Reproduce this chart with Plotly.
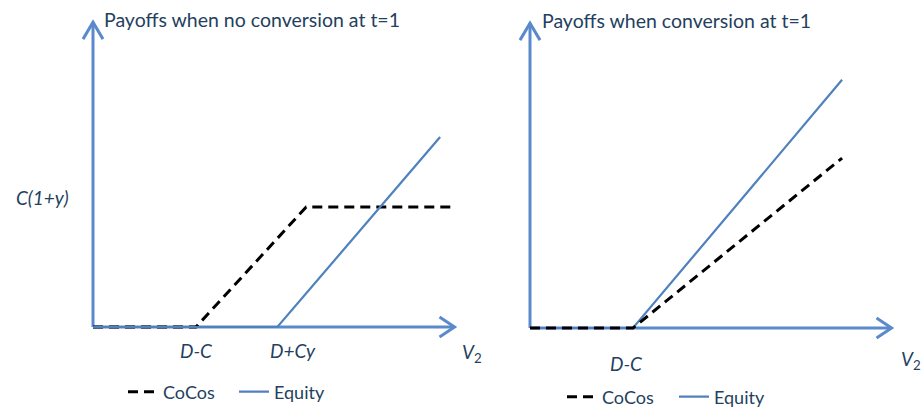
import plotly.graph_objects as go

# ---------------- data (conceptual units along V2 / payoff) ----------------
left_cocos_x = [0, 10.0, 20.7, 34.7]
left_cocos_y = [0, 0, 11.65, 11.65]
left_equity_x = [0, 17.9, 33.7]
left_equity_y = [0, 0, 18.45]

right_cocos_x = [0, 10.0, 30.3]
right_cocos_y = [0, 0, 16.5]
right_equity_x = [0, 10.0, 30.3]
right_equity_y = [0, 0, 24.1]

left_ticks = [("<i>D-C</i>", 10.0), ("<i>D+Cy</i>", 19.4)]
right_ticks = [("<i>D-C</i>", 9.4)]
y_label = "<i>C(1+y)</i>"
left_title = "Payoffs when no conversion at t=1"
right_title = "Payoffs when conversion at t=1"
x_label = "<i>V</i><sub>2</sub>"
axis_len_x = 35.1
axis_len_y = 29.6

# ---------------- styling ----------------
W, H = 924, 407
PX = 10.3  # pixels per unit
AXIS_C = "#5A8ACB"
EQ_C = "#4F81BD"
TXT_C = "#243F60"
FONT = "Lato"

L_ORIG = (93, 327)
R_ORIG = (530, 328)

fig = go.Figure()

fig.add_trace(go.Scatter(x=left_cocos_x, y=left_cocos_y, mode="lines", name="CoCos",
                         line=dict(color="black", width=3, dash="10px,6px"),
                         xaxis="x", yaxis="y", legend="legend", legendrank=1))
fig.add_trace(go.Scatter(x=left_equity_x, y=left_equity_y, mode="lines", name="Equity",
                         line=dict(color=EQ_C, width=2.2),
                         xaxis="x", yaxis="y", legend="legend", legendrank=2))
fig.add_trace(go.Scatter(x=right_equity_x, y=right_equity_y, mode="lines", name="Equity",
                         line=dict(color=EQ_C, width=2.2),
                         xaxis="x2", yaxis="y2", legend="legend2", legendrank=2))
fig.add_trace(go.Scatter(x=right_cocos_x, y=right_cocos_y, mode="lines", name="CoCos",
                         line=dict(color="black", width=3, dash="10px,6px"),
                         xaxis="x2", yaxis="y2", legend="legend2", legendrank=1))


def rng(orig, dom_px):
    ox, oy = orig
    x0, x1 = dom_px
    return [-(ox - x0) / PX, (x1 - ox) / PX], [-(H - oy) / PX, oy / PX]


lxr, lyr = rng(L_ORIG, (0, 462))
rxr, ryr = rng(R_ORIG, (462, 924))

ax_common = dict(visible=False, fixedrange=True)
fig.update_layout(
    width=W, height=H, margin=dict(l=0, r=0, t=0, b=0, autoexpand=False),
    paper_bgcolor="white", plot_bgcolor="white",
    xaxis=dict(domain=[0, 0.5], range=lxr, **ax_common),
    yaxis=dict(domain=[0, 1], range=lyr, **ax_common),
    xaxis2=dict(domain=[0.5, 1], range=rxr, **ax_common),
    yaxis2=dict(domain=[0, 1], range=ryr, anchor="x2", **ax_common),
    font=dict(family=FONT, color=TXT_C),
    showlegend=True,
)

shapes = []
for xr, yr in (("x", "y"), ("x2", "y2")):
    line = dict(color=AXIS_C, width=3)
    shapes.append(dict(type="line", xref=xr, yref=yr, x0=0, y0=0, x1=axis_len_x, y1=0, line=line, layer="below"))
    shapes.append(dict(type="line", xref=xr, yref=yr, x0=0, y0=0, x1=0, y1=axis_len_y, line=line, layer="below"))
    shapes.append(dict(type="path", xref=xr, yref=yr, layer="below", line=line,
                       path=f"M{-10/PX},{axis_len_y-17/PX} L0,{axis_len_y} L{10/PX},{axis_len_y-17/PX}"))
    shapes.append(dict(type="path", xref=xr, yref=yr, layer="below", line=line,
                       path=f"M{axis_len_x-15/PX},{10/PX} L{axis_len_x},0 L{axis_len_x-15/PX},{-10/PX}"))
fig.update_layout(shapes=shapes)

ann = []


def a(text, xr, yr, x, y, size, xanchor="center"):
    ann.append(dict(text=text, xref=xr, yref=yr, x=x, y=y, showarrow=False,
                    xanchor=xanchor, yanchor="middle",
                    font=dict(family=FONT, size=size, color=TXT_C)))


a(left_title, "x", "y", (102 - L_ORIG[0]) / PX, (L_ORIG[1] - 19) / PX, 19.5, "left")
a(right_title, "x2", "y2", (540 - R_ORIG[0]) / PX, (R_ORIG[1] - 20) / PX, 19.5, "left")
a(y_label, "x", "y", (42 - L_ORIG[0]) / PX, (L_ORIG[1] - 197) / PX, 19)
for t, xv in left_ticks:
    a(t, "x", "y", xv, -(350 - L_ORIG[1]) / PX, 19)
for t, xv in right_ticks:
    a(t, "x2", "y2", xv, -(363 - R_ORIG[1]) / PX, 19)
# left V2 sits just past the left panel's domain, so place it in paper coordinates
a(x_label, "paper", "paper", 472 / W, 1 - 353 / H, 19)
a(x_label, "x2", "y2", (911 - R_ORIG[0]) / PX, -(360 - R_ORIG[1]) / PX, 19)
fig.update_layout(annotations=ann)

leg_common = dict(orientation="h", xanchor="left", yanchor="middle", bgcolor="rgba(0,0,0,0)",
                  font=dict(family=FONT, size=18, color=TXT_C), itemwidth=30,
                  entrywidthmode="pixels", traceorder="normal")
fig.update_layout(
    legend=dict(x=123 / W, y=1 - 392 / H, entrywidth=66, **leg_common),
    legend2=dict(x=562 / W, y=1 - 397 / H, entrywidth=67, **leg_common),
)

fig.write_html("out.html", config={"displayModeBar": False},
               post_script="document.body.style.margin='0px';")
